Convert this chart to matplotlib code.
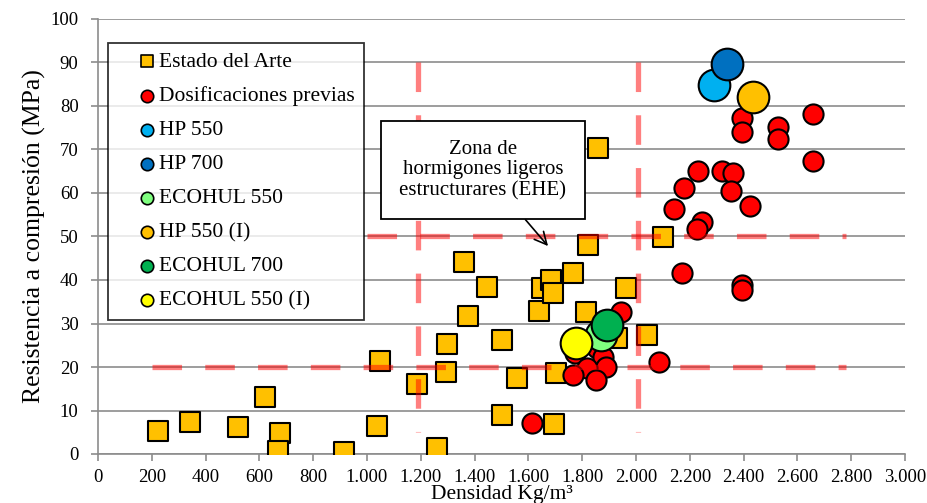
import matplotlib.pyplot as plt
from matplotlib.ticker import FuncFormatter, MultipleLocator

plt.rcParams['font.family'] = ['Liberation Serif', 'DejaVu Serif']

# Estado del Arte (squares)
arte_x = [223, 342, 520, 621, 676, 668, 913, 1037, 1048, 1186, 1260, 1294, 1297,
          1375, 1361, 1446, 1502, 1502, 1558, 1639, 1651, 1684, 1691, 1703, 1695,
          1766, 1814, 1822, 1859, 1929, 1963, 2041, 2100]
arte_y = [5.4, 7.4, 6.3, 13.2, 4.9, 0.7, 0.5, 6.4, 21.4, 16.1, 1.3, 18.9, 25.2,
          31.7, 44.2, 38.4, 26.2, 9.0, 17.4, 32.9, 38.1, 40.0, 37.0, 18.6, 6.9,
          41.6, 32.7, 48.1, 70.3, 26.7, 38.2, 27.3, 49.9]

# Dosificaciones previas (red circles)
prev_x = [2394, 2394, 2528, 2528, 2658, 2658, 2230, 2320, 2361, 2178, 2353, 2141,
          2424, 2245, 2227, 2171, 2394, 2394, 1944, 2086, 1613, 1870, 1855, 1773,
          1877, 1888, 1818, 1766, 1851]
prev_y = [77.2, 74.0, 75.2, 72.4, 78.1, 67.4, 65.1, 65.1, 64.6, 61.1, 60.5, 56.3,
          57.0, 53.3, 51.7, 41.6, 38.9, 37.7, 32.6, 21.1, 7.1, 27.0, 24.4, 23.2,
          22.3, 20.0, 19.8, 18.2, 17.0]

# New mixes (big circles)
new_names = ['HP 550', 'HP 700', 'ECOHUL 550', 'HP 550 (I)', 'ECOHUL 700', 'ECOHUL 550 (I)']
new_x = [2290, 2338, 1870, 2435, 1892, 1777]
new_y = [84.8, 89.6, 27.4, 82.1, 29.7, 25.5]
new_colors = ['#00B0F0', '#0070C0', '#7FFF7F', '#FFC000', '#00B050', '#FFFF00']

fig = plt.figure(figsize=(9.27, 5.03), dpi=100)
ax = fig.add_axes([98 / 927, 1 - 454 / 503, 807 / 927, 435 / 503])

ax.scatter(arte_x, arte_y, marker='s', s=210, color='#FFC000', edgecolor='black',
           linewidth=1.5, zorder=3, label='Estado del Arte')
ax.scatter(prev_x, prev_y, marker='o', s=210, color='#FF0000', edgecolor='black',
           linewidth=1.5, zorder=3, label='Dosificaciones previas')
for name, x, y, c in zip(new_names, new_x, new_y, new_colors):
    ax.scatter([x], [y], marker='o', s=520, color=c, edgecolor='black',
               linewidth=1.5, zorder=4, label=name)

# EHE limits
dash = dict(color='#FF0000', alpha=0.5, linewidth=3.8, dashes=(5.6, 4.4), zorder=5)
ax.plot([200, 2780], [20, 20], **dash)
ax.plot([1000, 2780], [50, 50], **dash)
ax.plot([1190, 1190], [90, 5], **dash)
ax.plot([2008, 2008], [90, 5], **dash)

ax.annotate('Zona de\nhormigones ligeros\nestructurares (EHE)',
            xy=(1673, 47.8), xytext=(1431, 65.3), ha='center', va='center',
            fontsize=15, linespacing=1.12,
            bbox=dict(boxstyle='square,pad=0.9', fc='white', ec='black', lw=1.3),
            arrowprops=dict(arrowstyle='->', color='black', lw=1.2,
                            mutation_scale=22, shrinkA=0, shrinkB=0),
            zorder=6)

ax.set_xlim(0, 3000)
ax.set_ylim(0, 100)
ax.xaxis.set_major_locator(MultipleLocator(200))
ax.yaxis.set_major_locator(MultipleLocator(10))
ax.xaxis.set_major_formatter(FuncFormatter(lambda v, p: f"{int(v):,}".replace(',', '.')))
ax.grid(axis='y', color='#8c8c8c', linewidth=1.2, zorder=0)
ax.set_axisbelow(True)
for side in ['top', 'right']:
    ax.spines[side].set_visible(False)
for side in ['left', 'bottom']:
    ax.spines[side].set_color('#8c8c8c')
    ax.spines[side].set_linewidth(1.2)
ax.tick_params(colors='#8c8c8c', labelcolor='black', labelsize=13.5, length=5, width=1.2)
ax.tick_params(axis='y', pad=9)
ax.tick_params(axis='x', pad=6)

ax.set_xlabel('Densidad Kg/m³', fontsize=15.5, labelpad=-1)
ax.set_ylabel('Resistencia a compresión (MPa)', fontsize=18.5, labelpad=3)

leg = ax.legend(loc='upper left', bbox_to_anchor=(10 / 807, 1 - 24 / 435),
                fontsize=15.5, markerscale=0.45, handletextpad=-0.85, labelspacing=0.65,
                frameon=True, fancybox=False, borderpad=0.42, handlelength=2.8,
                borderaxespad=0)
leg.get_frame().set_edgecolor('black')
leg.get_frame().set_linewidth(1.3)
leg.set_zorder(7)
for h in leg.legend_handles:
    h.set_sizes([80])
    h.set_linewidth(1.2)

fig.savefig('out.png', dpi=100)
